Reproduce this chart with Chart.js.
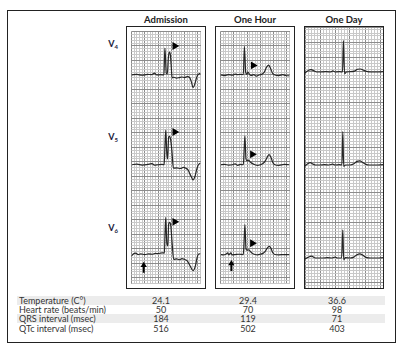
<!DOCTYPE html>
<html>
<head>
<meta charset="utf-8">
<script src="https://cdn.jsdelivr.net/npm/chart.js@4.4.1/dist/chart.umd.min.js"></script>
<style>
  body { margin: 0; background: #fff; font-family: Lato, "Open Sans", sans-serif; }
  #page { position: relative; width: 403px; height: 350px; overflow: hidden; }
  .frame { position: absolute; left: 7px; top: 10px; width: 387px; height: 331px; border: 1px solid #222; }
  .panel { position: absolute; top: 26px; width: 78px; height: 261px; border: 1px solid #222; }
  .panel canvas { display: block; }
  .title { position: absolute; top: 14px; width: 100px; text-align: center; font-size: 9.5px; font-weight: bold; color: #222; }
  .lead { position: absolute; left: 96px; width: 22px; text-align: right; font-size: 9px; font-weight: bold; color: #1c1c3c; }
  .lead sub { font-size: 6px; vertical-align: -2px; }
  .row { position: absolute; left: 17px; width: 368px; height: 9px; line-height: 9px; font-size: 9px; color: #333; }
  .row.shade { background: #ececec; }
  .row span { position: absolute; top: 0; }
  .row .val { width: 40px; margin-left: -20px; text-align: center; }
</style>
</head>
<body>
<div id="page">
  <div class="frame"></div>
</div>
<script>
// ECG strips, units are small squares of ECG paper:
// x = 1 mm (40 ms), y = 1 mm (0.1 mV) above the baseline
const columns = ['Admission', 'One Hour', 'One Day'];
const leads = ['4', '5', '6'];

const admissionV4 = [[0,0],[2,0.2],[4,-0.1],[6,0.2],[7.5,0.1],[8.7,0.6],[9.5,0],[11,0.1],[12.2,0],[12.4,5],[12.6,9.3],[13.1,0.6],[13.5,0.4],[13.9,6],[14.2,7.9],[14.6,7.3],[14.9,4],[15.3,-1],[16,-0.8],[17,-1.1],[18,-0.9],[19,-0.7],[20,-0.9],[21,-0.6],[22,-1],[22.6,-2.5],[23.2,-4.4],[23.9,-3],[24.5,-1],[25,0],[26,0.6]];
const admissionV5 = [[0,0],[2,0.2],[4,-0.1],[6,0.1],[7.7,0.4],[8.6,-0.1],[10,0],[11.5,0.1],[12.3,0],[12.6,6],[12.9,12],[13.3,4],[13.6,2],[14,9.5],[14.3,9.8],[14.7,9],[15.2,5],[15.8,-1.2],[17,-1.1],[18.5,-1.3],[19.5,-0.9],[20.5,-1.2],[21.3,-1.8],[22.2,-3.5],[23.2,-5.2],[24,-3.8],[24.6,-1.5],[25.2,0],[26,0.6]];
const admissionV6 = [[0,-0.5],[0.8,0.3],[1.5,0.5],[2.5,0],[3.5,0.2],[5,0],[6.5,0.2],[8,0.1],[9,0.4],[10,0.3],[11.5,0.6],[12.4,0.5],[12.6,6],[12.9,12.8],[13.3,4],[13.7,3],[14,10.5],[14.3,11.1],[14.8,10],[15.3,4],[15.9,-1.7],[17,-1.5],[18,-1.8],[19,-1.4],[20,-1.7],[21,-2.2],[22,-3.8],[23.2,-5.6],[24,-4.2],[24.6,-1.6],[25.1,0],[26,0.3]];

const oneHourV4 = [[0,0],[1.5,-0.2],[3,0.1],[4.5,-0.1],[5.5,0.3],[6.5,0.1],[7.5,0.2],[8.6,0.1],[9,9.9],[9.5,0.9],[10,0.2],[10.3,1],[10.8,0.4],[11.5,-0.2],[12.5,0.1],[13.5,-0.4],[14.5,0],[15.5,0.2],[16.5,1],[17.3,2.6],[18.1,3.4],[18.8,2.4],[19.6,0.6],[20.5,0],[22,-0.2],[23.5,0.1],[24.5,-0.2],[26,-0.3]];
const oneHourV5 = [[0,0],[1.5,0.1],[3,-0.1],[4.5,0],[5.5,0.3],[6.5,-0.2],[7.5,0.1],[8.6,0],[8.9,5],[9.2,10],[9.6,2],[10,1.4],[10.5,1.6],[11.2,1],[12,0.4],[13,0],[14,-0.2],[15,0],[16,0.4],[17,1.5],[17.6,2.6],[18.3,3.5],[19,2.6],[19.7,0.8],[20.5,0],[22,-0.2],[24,0.1],[26,0]];
const oneHourV6 = [[0,0],[1,-0.1],[2,0.1],[2.7,0.6],[3.1,-0.1],[3.9,0.6],[4.3,-0.1],[5.5,0],[7,0.1],[8.6,0],[8.9,5],[9.2,10.3],[9.6,2],[10,1.5],[10.6,1.6],[11.3,1],[12,0.4],[13,0],[14,-0.1],[15,0.1],[16,0.4],[17,1.3],[17.6,2.2],[18.3,2.8],[19,2.2],[19.7,0.6],[20.5,0],[22,-0.1],[24,0],[26,0]];

const oneDayV4 = [[0,-0.3],[1.2,0.6],[2,0.8],[3,0.4],[3.8,0],[5,0],[7,0.1],[8.5,0],[9.3,0.4],[10,0],[11.5,0.1],[12.5,0],[12.8,10.5],[13.2,-0.6],[13.8,0],[15,0.1],[16.5,0.3],[17.5,0.9],[18.5,1],[19.5,0.6],[20.5,0.2],[22,0],[24,0],[26,0.1]];
const oneDayV5 = [[0,-0.3],[0.8,0.3],[1.7,0.8],[2.7,0.3],[3.5,0],[5,0],[6.5,0.1],[8,0],[9.2,0.3],[10,0],[11.5,0.1],[12.3,0],[12.6,11.1],[12.9,-0.5],[13.5,0],[15,0],[16.3,0.4],[17.3,1.2],[18.3,1.4],[19.3,0.8],[20.3,0.2],[21.5,0],[23.5,0],[26,0.1]];
const oneDayV6 = [[0,-0.3],[1,0.2],[2.2,0.6],[3.2,0.1],[4,0],[6,0],[7.5,0.1],[9,0],[10,0.3],[10.8,0],[12.2,0],[12.6,9.4],[12.9,-0.6],[13.5,0.1],[15,0],[16.3,0.3],[17.3,1.1],[18.3,1.4],[19.3,0.9],[20.3,0.2],[22,0],[24,0],[26,0.1]];

// arrowheads pointing at the J (Osborn) wave, one per lead: [x, y]
const admissionJ = [[16.3, 10], [16.3, 11.3], [16.3, 11.3]];
const oneHourJ = [[12.3, 3.3], [12, 3.6], [12, 3.9]];
const oneDayJ = [];

// upward arrows under V6: [x, tail, tip]
const admissionArrow = [4.6, -6.3, -2.6];
const oneHourArrow = [4.1, -5.7, -2.0];
const oneDayArrow = null;

// measurements under the strips
const rowLabels = ['Temperature (C\u00b0)', 'Heart rate (beats/min)', 'QRS interval (msec)', 'QTc interval (msec)'];
const temperature = ['24.1', '29.4', '36.6'];
const heartRate = ['50', '70', '98'];
const qrsInterval = ['184', '119', '71'];
const qtcInterval = ['516', '502', '403'];

// paper ranges of each lead strip (mm), stacked top to bottom
const leadMin = [-14, -12, -10];
const leadMax = [15, 17, 19];
const paperWidth = 26;

const page = document.getElementById('page');
const panelLeft = [126, 215, 304];
const leadLabelTop = [38, 131, 222];

function gridColor(isMajor) {
    return isMajor ? '#8c8c8c' : '#c9c9c9';
}

function makePanel(col, traces, jMarks, upArrow) {
    const wrap = document.createElement('div');
    wrap.className = 'panel';
    wrap.style.left = panelLeft[col] + 'px';
    const canvas = document.createElement('canvas');
    canvas.width = 78;
    canvas.height = 261;
    wrap.appendChild(canvas);
    page.appendChild(wrap);

    const title = document.createElement('div');
    title.className = 'title';
    title.style.left = (panelLeft[col] + 40 - 50) + 'px';
    title.textContent = columns[col];
    page.appendChild(title);

    const datasets = [];
    traces.forEach((tr, i) => {
        datasets.push({
            data: tr.map(p => ({x: p[0], y: p[1]})),
            yAxisID: 'lead' + i,
            borderColor: '#262626',
            borderWidth: 1.2,
            pointRadius: 0,
            cubicInterpolationMode: 'monotone'
        });
    });
    jMarks.forEach((m, i) => {
        datasets.push({
            data: [{x: m[0], y: m[1]}],
            yAxisID: 'lead' + i,
            showLine: false,
            pointStyle: 'triangle',
            pointRotation: 90,
            pointRadius: 4.5,
            pointBackgroundColor: '#000',
            pointBorderWidth: 0
        });
    });
    if (upArrow) {
        // shaft, then the head on top of it
        datasets.push({
            data: [{x: upArrow[0], y: upArrow[1]}, {x: upArrow[0], y: upArrow[2] - 1}],
            yAxisID: 'lead2',
            borderColor: '#000',
            borderWidth: 2,
            pointRadius: 0
        });
        datasets.push({
            data: [{x: upArrow[0], y: upArrow[2] - 1.1}],
            yAxisID: 'lead2',
            showLine: false,
            pointStyle: 'triangle',
            pointRotation: 0,
            pointRadius: 3.6,
            pointBackgroundColor: '#000',
            pointBorderWidth: 0
        });
    }

    const scales = {
        x: {
            type: 'linear', min: 0, max: paperWidth,
            ticks: {display: false, stepSize: 1, autoSkip: false},
            grid: {
                drawTicks: false, tickLength: 0,
                color: c => gridColor(c.tick.value % 5 === 0),
                lineWidth: 1
            },
            border: {display: false},
            afterFit: s => { s.height = 0; }
        }
    };
    let offset = 0;
    leads.forEach((l, i) => {
        const off = offset;
        const top = leadMax[i];
        scales['lead' + i] = {
            type: 'linear', position: 'right', stack: 'leads', stackWeight: leadMax[i] - leadMin[i],
            min: leadMin[i], max: leadMax[i],
            ticks: {display: false, stepSize: 1, autoSkip: false},
            grid: {
                drawTicks: false, tickLength: 0,
                color: c => gridColor(Math.round(off + top - c.tick.value) % 5 === 0),
                lineWidth: 1
            },
            border: {display: false},
            afterFit: s => { s.width = 0; }
        };
        offset += leadMax[i] - leadMin[i];
    });

    new Chart(canvas.getContext('2d'), {
        type: 'line',
        data: {datasets: datasets},
        options: {
            responsive: false,
            animation: false,
            events: [],
            layout: {padding: 0},
            plugins: {legend: {display: false}, tooltip: {enabled: false}},
            scales: scales
        }
    });
}

makePanel(0, [admissionV4, admissionV5, admissionV6], admissionJ, admissionArrow);
makePanel(1, [oneHourV4, oneHourV5, oneHourV6], oneHourJ, oneHourArrow);
makePanel(2, [oneDayV4, oneDayV5, oneDayV6], oneDayJ, oneDayArrow);

// lead names on the left
leads.forEach((l, i) => {
    const d = document.createElement('div');
    d.className = 'lead';
    d.style.top = leadLabelTop[i] + 'px';
    d.innerHTML = 'V<sub>' + l + '</sub>';
    page.appendChild(d);
});

// measurement table
const rows = [temperature, heartRate, qrsInterval, qtcInterval];
const valueX = [144, 231, 320];
rows.forEach((vals, r) => {
    const row = document.createElement('div');
    row.className = 'row' + (r % 2 === 0 ? ' shade' : '');
    row.style.top = (296 + r * 9.2) + 'px';
    let html = '<span style="left:2px">' + rowLabels[r] + '</span>';
    vals.forEach((v, c) => {
        html += '<span class="val" style="left:' + valueX[c] + 'px">' + v + '</span>';
    });
    row.innerHTML = html;
    page.appendChild(row);
});
</script>
</body>
</html>
